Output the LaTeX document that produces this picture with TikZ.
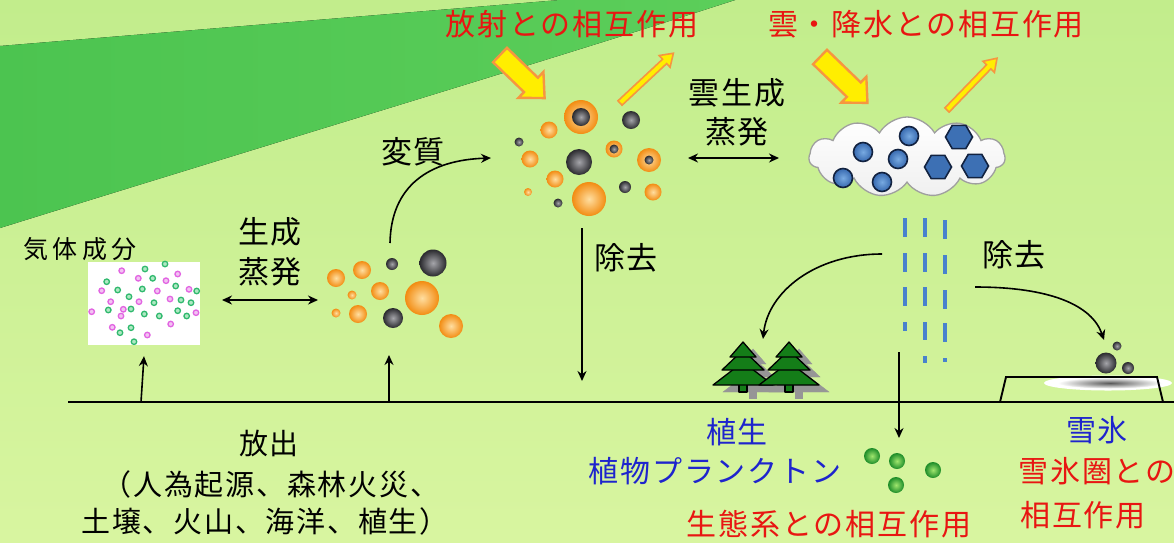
\documentclass[tikz,border=0pt]{standalone}
\usepackage{fontspec}
\newfontfamily\jp[LetterSpace=6]{Noto Sans CJK JP}
\newfontfamily\jpwide[LetterSpace=18]{Noto Sans CJK JP}
\usetikzlibrary{arrows.meta,shapes.geometric,shapes.symbols}

\definecolor{bgtop}{RGB}{194,237,140}
\definecolor{bgbot}{RGB}{216,245,160}
\definecolor{wedgeL}{RGB}{76,196,80}
\definecolor{wedgeR}{RGB}{92,206,90}
\definecolor{redtxt}{RGB}{232,22,18}
\definecolor{bluetxt}{RGB}{30,36,205}
\definecolor{orgout}{RGB}{242,140,18}
\definecolor{orgin}{RGB}{255,222,160}
\definecolor{grayout}{RGB}{42,42,46}
\definecolor{grayin}{RGB}{165,165,170}
\definecolor{raincol}{RGB}{72,130,205}
\definecolor{treegreen}{RGB}{20,125,24}
\definecolor{treeshadow}{RGB}{150,150,150}
\definecolor{arrowyellow}{RGB}{255,238,0}
\definecolor{arroworange}{RGB}{246,150,64}
\definecolor{dropin}{RGB}{120,170,225}
\definecolor{dropout}{RGB}{55,105,175}
\definecolor{dropline}{RGB}{18,34,64}
\definecolor{gasgreen}{RGB}{48,185,110}
\definecolor{gasgreenfill}{RGB}{175,232,195}
\definecolor{gaspink}{RGB}{226,100,226}
\definecolor{gaspinkfill}{RGB}{242,195,242}
\definecolor{leafin}{RGB}{160,230,110}
\definecolor{leafout}{RGB}{28,140,40}

\tikzset{
  lbl/.style={inner sep=0pt, font=\jp\fontsize{30}{34}\selectfont},
  blk/.style={lbl, font=\jp\fontsize{31}{34}\selectfont, text=black},
  redlbl/.style={lbl, text=redtxt},
  bluelbl/.style={lbl, text=bluetxt},
  emitlbl/.style={lbl, font=\jp\fontsize{29}{32}\selectfont, text=black},
  orb/.style={circle, inner sep=0pt, minimum size=#1, inner color=orgin, outer color=orgout},
  gorb/.style={circle, inner sep=0pt, minimum size=#1, inner color=grayin, outer color=grayout},
  leaf/.style={circle, inner sep=0pt, minimum size=16, inner color=leafin, outer color=leafout},
  drop/.style={circle, inner sep=0pt, minimum size=19, inner color=dropin, outer color=dropout, draw=dropline, line width=1.6},
  hexflake/.style={regular polygon, regular polygon sides=6, inner sep=0pt, minimum size=27, fill=dropout!90!dropin, draw=dropline, line width=1.6},
  gasg/.style={circle, inner sep=0pt, minimum size=5.5, fill=gasgreenfill, draw=gasgreen, line width=1.3},
  gasp/.style={circle, inner sep=0pt, minimum size=5.5, fill=gaspinkfill, draw=gaspink, line width=1.3},
  flow/.style={line width=1.6, -{Stealth[length=10pt,width=9pt]}},
  twoway/.style={line width=1.6, {Stealth[length=10pt,width=9pt]}-{Stealth[length=10pt,width=9pt]}},
  rain/.style={raincol, line width=4},
  pics/fatarrow/.style={code={
    \draw[fill=arrowyellow, draw=arroworange, line width=2.4, line join=miter]
      (0,-10) -- (#1-19,-10) -- (#1-19,-18) -- (#1,0) -- (#1-19,18) -- (#1-19,10) -- (0,10) -- cycle;}},
  pics/thinarrow/.style={code={
    \draw[fill=arrowyellow, draw=arroworange, line width=1.6, line join=miter]
      (0,-3) -- (#1-12,-3) -- (#1-12,-8) -- (#1,0) -- (#1-12,8) -- (#1-12,3) -- (0,3) -- cycle;}},
  pics/fir/.style={code={
    \fill[#1] (-4,42) rectangle (4,50);
    \filldraw[#1] (0,20) -- (30,43) -- (-30,43) -- cycle;
    \filldraw[#1] (0,8) -- (21,28) -- (-21,28) -- cycle;
    \filldraw[#1] (0,0) -- (13,15) -- (-13,15) -- cycle;}},
}

\begin{document}
\begin{tikzpicture}[x=1pt,y=-1pt]
\useasboundingbox (0,0) rectangle (1174,542);

% sky and ground tint
\fill[top color=bgtop, bottom color=bgbot] (0,0) rectangle (1174,542);
% sunlight beam
\fill[left color=wedgeL, right color=wedgeR]
  (0,46) -- (560,0) -- (735,0) .. controls (550,60) and (250,150) .. (0,228) -- cycle;

% ground
\coordinate (gl) at (68,402);
\coordinate (gr) at (1174,402);
\draw[line width=1.9] (gl) -- (gr);

% ---------- gases ----------
\node[fill=white, inner sep=0pt, minimum width=112, minimum height=83] (gasbox) at (144,303.5) {};
\foreach \x/\y [count=\i] in {165/264,145/269,152.7/278.3,106.7/281.7,117.7/290,142.3/289,175.7/286,196.7/291,129/296.7,181/300,191/302.7,154/302.7,108.3/310,131/309,144.3/314,177.7/310.7,159.3/316,186.7/316,120/332.7,131/327.7,134/341.7}
  \node[gasg] (gg\i) at (\x,\y) {};
\foreach \x/\y [count=\i] in {121.7/270.7,177.7/274,138.3/278.3,166/280.7,101.7/290.7,157.3/291,189/289.3,110.7/301.7,139/301.7,170/299,91.7/311.7,123.3/309.3,121/316,196/312.7,170.7/324,112.3/327.3,147.3/335}
  \node[gasp] (gp\i) at (\x,\y) {};
\node[inner sep=0pt, font=\jpwide\fontsize{25}{28}\selectfont] (gaslbl) at (80,249) {気体成分};

% ---------- fresh aerosols ----------
\node[orb=18] (a1) at (336,278) {};
\node[orb=18] (a2) at (362,270) {};
\node[gorb=12] (a3) at (392,264) {};
\node[gorb=27] (a4) at (433,263) {};
\node[orb=9] (a5) at (352,295) {};
\node[orb=18] (a6) at (380,291) {};
\node[orb=34] (a7) at (422,298) {};
\node[orb=9] (a8) at (336,313) {};
\node[orb=18] (a9) at (358,314) {};
\node[gorb=20] (a10) at (393,318) {};
\node[orb=24] (a11) at (451,326) {};

% ---------- aged aerosols ----------
\node[orb=34] (b1) at (581,117) {};
\node[gorb=18] (b1c) at (581,117) {};
\node[orb=17] (b2) at (549,130) {};
\node[gorb=18] (b3) at (631,120) {};
\node[gorb=9] (b4) at (519,142) {};
\node[orb=17] (b5) at (530,159) {};
\node[gorb=26] (b6) at (579,162) {};
\node[orb=17] (b7) at (614,149) {};
\node[gorb=9] (b7c) at (614,149) {};
\node[orb=24] (b8) at (649,160) {};
\node[gorb=9] (b8c) at (649,160) {};
\node[orb=17] (b9) at (555,179) {};
\node[orb=8] (b10) at (528,192) {};
\node[orb=34] (b11) at (589,199) {};
\node[gorb=12] (b12) at (625,187) {};
\node[orb=17] (b13) at (653,192) {};
\node[gorb=9] (b14) at (558,203) {};

% ---------- cloud ----------
\node[cloud, cloud puffs=11, cloud puff arc=120, aspect=2.5, minimum width=196, minimum height=80,
      draw=gray!75, line width=1.3, top color=white, bottom color=gray!12] (cloud) at (907,157) {};
\node[drop] (d1) at (863,152) {};
\node[drop] (d2) at (909,136) {};
\node[drop] (d3) at (898,159) {};
\node[drop] (d4) at (843,178) {};
\node[drop] (d5) at (882,182) {};
\node[hexflake] (h1) at (959,137) {};
\node[hexflake] (h2) at (938,167) {};
\node[hexflake] (h3) at (975,166) {};

% rain
\foreach \y/\z in {218/237,253/272,287/306,322/331} \draw[rain] (905,\y) -- (905,\z);
\foreach \y/\z in {218/237,253/272,287/306,322/340,356/363} \draw[rain] (925,\y) -- (925,\z);
\foreach \y/\z in {220/239,255/274,290/309,323/342,358/362} \draw[rain] (945,\y) -- (945,\z);

% ---------- radiation arrows ----------
\pic[rotate=-44] at (500,55) {fatarrow=62};
\pic[rotate=43] at (620,103) {thinarrow=73};
\pic[rotate=-44] at (820,57) {fatarrow=66};
\pic[rotate=46] at (947,110) {thinarrow=72};

% ---------- trees ----------
\pic at (753,349) {fir={treeshadow}};
\pic at (799,349) {fir={treeshadow}};
\pic at (743,342) {fir={fill=treegreen, draw=black, line width=1.3, line join=round}};
\pic at (789,342) {fir={fill=treegreen, draw=black, line width=1.3, line join=round}};

% ---------- snow and ice ----------
\fill[white] (1108,383) ellipse [x radius=64, y radius=7.5];
\shade[inner color=gray!70!black, outer color=white] (1110,383) ellipse [x radius=52, y radius=5.5];
\draw[line width=1.9, line join=miter] (1000,402) -- (1006,377) -- (1157,377) -- (1163,402);
\node[gorb=21] (s1) at (1106,363) {};
\node[gorb=9] (s2) at (1117,346) {};
\node[gorb=12] (s3) at (1128,368) {};

% phytoplankton
\node[leaf] (l1) at (872,456) {};
\node[leaf] (l2) at (897,461) {};
\node[leaf] (l3) at (933,470) {};
\node[leaf] (l4) at (896,485) {};

% ---------- process arrows ----------
\coordinate (e1) at (141,402);
\coordinate (e2) at (389,402);
\draw[flow] (e1) -- ([yshift=-11pt]gasbox.south);
\draw[flow] (e2) -- ++(0,-47);

\coordinate (ge1) at (222,300);
\coordinate (ge2) at (318,300);
\draw[twoway] (ge1) -- (ge2);

\coordinate (v1) at (390,243);
\coordinate (v2) at (491,158);
\draw[flow] (v1) .. controls (391,185) and (430,160) .. (v2);

\coordinate (ce1) at (688,158);
\coordinate (ce2) at (779,158);
\draw[twoway] (ce1) -- (ce2);

\coordinate (r1) at (582,228);
\coordinate (r2) at (582,381);
\draw[flow] (r1) -- (r2);

\coordinate (w1) at (899,352);
\coordinate (w2) at (899,438);
\draw[flow] (w1) -- (w2);

\coordinate (t1) at (882,254);
\coordinate (t2) at (763,339);
\draw[flow] (t1) .. controls (815,254) and (768,292) .. (t2);

\coordinate (n1) at (975,287);
\coordinate (n2) at (1104,340);
\draw[flow] (n1) .. controls (1050,287) and (1092,305) .. (n2);

% ---------- labels ----------
\node[redlbl] (radlbl) at (572,24) {放射との相互作用};
\node[redlbl] (cldlbl) at (926,24) {雲・降水との相互作用};
\node[blk] (cg1) at (737,93) {雲生成};
\node[blk] (cg2) at (737,132) {蒸発};
\node[blk] (agelbl) at (413,152) {変質};
\node[blk] (gen1) at (270,232) {生成};
\node[blk] (gen2) at (270,272) {蒸発};
\node[blk] (rem1) at (626,258) {除去};
\node[blk] (rem2) at (1014,255) {除去};
\node[emitlbl] (em1) at (269,443) {放出};
\node[emitlbl] (em2) at (271,484) {（人為起源、森林火災、};
\node[emitlbl] (em3) at (265,521) {土壌、火山、海洋、植生）};
\node[bluelbl] (veg1) at (737,432) {植生};
\node[bluelbl] (veg2) at (715,471) {植物プランクトン};
\node[redlbl] (ecolbl) at (829,524) {生態系との相互作用};
\node[bluelbl] (ice1) at (1097,430) {雪氷};
\node[redlbl] (ice2) at (1097,471) {雪氷圏との};
\node[redlbl] (ice3) at (1083,515) {相互作用};
\end{tikzpicture}
\end{document}
